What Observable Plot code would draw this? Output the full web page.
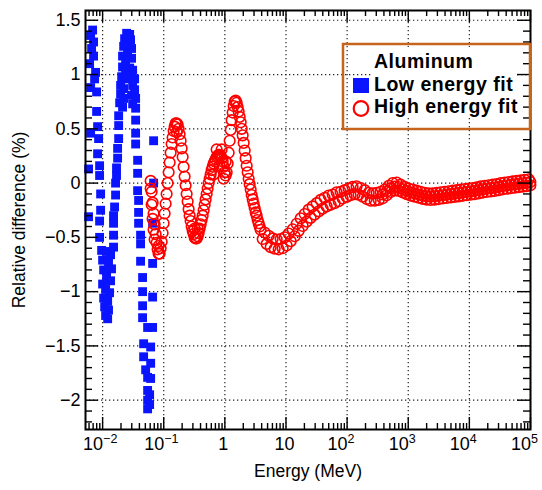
<!DOCTYPE html>
<html><head><meta charset="utf-8">
<script src="https://cdn.jsdelivr.net/npm/d3@7"></script>
<script src="https://cdn.jsdelivr.net/npm/@observablehq/plot@0.6"></script>
<style>
html,body{margin:0;padding:0;background:#fff;}
#chart{width:542px;height:490px;position:relative;}
</style></head><body><div id="chart"></div>
<script>
// ---------- Data (energy in MeV, relative difference in %) ----------
const lowEnergy = [
  0.00686,0.00637,0.00712,0.00661,0.00712,0.00613,0.00768,0.00740,0.00637,0.00798,0.00798,0.00828,0.00637,0.00860,0.00828,0.00893,0.00590,0.00893,0.00928,0.00928,0.00590,0.00893,0.00893,
  0.00964,0.0116,0.0135,0.0100,0.0125,0.0140,0.0104,0.0116,0.0135,0.0100,0.0112,0.0130,0.0104,0.0121,0.0108,0.0125,0.0112,0.0121,0.0151,0.0151,
  0.0151,0.0151,0.0157,0.0163,0.0163,0.0169,0.0169,0.0176,0.0176,0.0183,0.0183,0.0183,
  0.0247,0.0277,0.0229,0.0287,0.0256,0.0221,0.0298,0.0256,0.0212,0.0298,0.0238,0.0212,0.0277,0.0310,0.0238,
  0.0205,0.0229,0.0197,0.0221,0.0197,0.0221,0.0190,0.0212,
  0.0298,0.0334,0.0310,0.0334,0.0298,0.0347,0.0310,0.0347,
  0.0347,0.0347,0.0347,0.0374,0.0374,0.0374,0.0388,0.0388,0.0388,0.0418,0.0418,0.0418,0.0451,0.0451,0.0451,0.0451,
  0.0545,0.0469,0.0611,0.0469,0.0611,0.0506,0.0545,0.0611,0.0545,0.0588,0.0545,0.0588,0.0545,
  0.0683,0.0683,0.0658,0.0658,0.0658,0.0658
];
const lowDiff = [
  1.41,1.36,1.30,1.24,1.17,1.10,1.02,0.96,0.88,0.84,0.66,0.52,0.46,0.41,0.27,0.16,0.13,0.07,-0.10,-0.25,-0.31,-0.35,-0.50,
  -0.62,-0.63,-0.66,-0.71,-0.73,-0.79,-0.80,-0.86,-0.90,-0.93,-0.98,-1.01,-1.06,-1.09,-1.14,-1.17,-1.22,-1.25,-0.48,-0.59,
  -0.37,-0.30,-0.22,-0.11,0.00,0.07,0.14,0.23,0.32,0.41,0.53,0.62,
  1.38,1.37,1.33,1.32,1.29,1.26,1.24,1.20,1.17,1.15,1.12,1.07,1.06,1.04,1.02,
  0.98,0.96,0.90,0.87,0.82,0.78,0.74,0.70,
  0.98,0.96,0.90,0.86,0.81,0.78,0.73,0.69,
  0.58,0.46,0.36,0.21,0.09,-0.07,-0.16,-0.27,-0.37,-0.48,-0.56,-0.72,-0.87,-1.00,-1.13,-1.24,
  -1.33,-1.48,-1.51,-1.60,-1.66,-1.72,-1.79,-1.80,-1.91,-1.95,-2.00,-2.04,-2.08,
  0.39,0.00,-0.37,-0.74,-1.05,-1.33
];

// High energy fit: oscillating part
const highEnergyOsc = [
  0.0611,0.0634,0.0658,0.0683,0.0710,0.0737,0.0765,0.0794,0.0825,0.0857,
  0.0890,0.0924,0.0959,0.0996,0.1034,0.1074,0.1115,0.1158,0.1203,0.1249,
  0.1297,0.1347,0.1398,0.1452,0.1508,0.1566,0.1626,0.1688,0.1753,0.1820,
  0.1890,0.1963,0.2038,0.2116,0.2198,0.2282,0.2370,0.2461,0.2555,0.2653,
  0.2755,0.2861,0.2972,0.3086,0.3204,0.3327,0.3455,0.3588,0.3725,0.3868,
  0.4017,0.4171,0.4331,0.4497,0.4670,0.4849,0.5036,0.5229,0.5430,0.5639,
  0.5855,0.6080,0.6313,0.6555,0.6807,0.7068,0.7340,0.7622,0.7915,0.8219,
  0.8535,0.8863,0.920,0.9553,0.992,1.030,1.070,1.111,1.154,1.198,
  1.244,1.292,1.342,1.394,1.447,1.503,1.560,1.620,1.682,1.747,
  1.814,1.884,1.956,2.031,2.109,2.190,2.274,2.361,2.452,2.546,
  2.644,2.746,2.851,2.960,3.074,3.192,3.315,3.442,3.574,3.711,3.854
];
const highDiffOsc = [
  0.02,-0.08,-0.18,-0.28,-0.38,-0.47,-0.55,-0.61,-0.65,-0.65,
  -0.60,-0.54,-0.46,-0.37,-0.28,-0.19,-0.10,0.00,0.10,0.19,
  0.28,0.36,0.42,0.48,0.52,0.55,0.55,0.54,0.50,0.45,
  0.39,0.32,0.24,0.15,0.06,-0.02,-0.10,-0.17,-0.24,-0.30,
  -0.35,-0.40,-0.44,-0.47,-0.50,-0.51,-0.51,-0.49,-0.46,-0.42,
  -0.38,-0.34,-0.30,-0.25,-0.20,-0.15,-0.10,-0.05,0.00,0.04,
  0.08,0.12,0.15,0.18,0.20,0.22,0.24,0.25,0.26,0.26,
  0.25,0.23,0.20,0.15,0.10,0.07,0.10,0.18,0.28,0.39,
  0.49,0.58,0.65,0.71,0.75,0.76,0.74,0.70,0.66,0.61,
  0.56,0.50,0.44,0.37,0.30,0.23,0.16,0.10,0.04,-0.01,
  -0.06,-0.11,-0.15,-0.19,-0.23,-0.27,-0.30,-0.34,-0.37,-0.40,-0.43
];
const highEnergyScatter = [0.0611,0.0634,0.0658,0.0683,0.0710,0.0825,0.1626,0.3204,0.3588,0.6555,0.7340,0.8219,0.8863,0.9553,1.030];
const highDiffScatter   = [-0.05,-0.20,-0.33,-0.43,-0.52,-0.58,0.47,-0.42,-0.42,0.08,0.31,0.16,0.31,0.04,0.20];

// High energy fit: tail, upper edge of band
const highEnergyUpper = [
  4.48,5.21,6.06,7.04,8.19,9.52,11.07,12.87,14.96,17.39,
  20.2,23.5,27.3,31.8,36.9,42.9,49.9,58.0,67.5,78.4,
  91.2,106,123,143,167,194,225,262,305,354,
  412,479,557,647,753,875,1017,1183,1375,1599,
  1859,2161,2512,2921,3396,3948,4590,5336,6204,7213,
  8386,9750,11335,13178,15321,17812,20709,24076,27991,32542,
  37834,43986,51138,59454,69122,80362,93430
];
const highDiffUpper = [
  -0.455,-0.485,-0.51,-0.52,-0.515,-0.50,-0.465,-0.425,-0.375,-0.325,
  -0.285,-0.245,-0.215,-0.185,-0.155,-0.135,-0.115,-0.105,-0.085,-0.08,
  -0.065,-0.05,-0.035,-0.03,-0.045,-0.065,-0.09,-0.095,-0.09,-0.08,
  -0.06,-0.025,0.0,0.005,-0.015,-0.035,-0.05,-0.06,-0.07,-0.08,
  -0.09,-0.095,-0.095,-0.09,-0.085,-0.08,-0.075,-0.07,-0.065,-0.06,
  -0.055,-0.05,-0.045,-0.04,-0.03,-0.025,-0.02,-0.015,-0.01,0.0,
  0.005,0.01,0.015,0.02,0.025,0.03,0.035
];
// tail, lower edge of band
const highEnergyLower = [
  4.156,4.83,5.62,6.53,7.59,8.83,10.27,11.94,13.88,16.13,
  18.75,21.8,25.3,29.4,34.3,39.8,46.3,53.8,62.5,72.8,
  84.5,98.3,114,133,154,180,209,243,283,329,
  382,444,517,601,698,812,944,1097,1276,1483,
  1724,2005,2330,2709,3150,3662,4257,4949,5754,6690,
  7778,9043,10513,12223,14210,16521,19207,22330,25961,30183,
  35090,40796,47430,55142,64108,74532,86650,99500
];
const highDiffLower = [
  -0.515,-0.56,-0.59,-0.605,-0.61,-0.60,-0.575,-0.535,-0.49,-0.44,
  -0.395,-0.355,-0.32,-0.29,-0.26,-0.235,-0.215,-0.20,-0.185,-0.167,
  -0.142,-0.127,-0.112,-0.102,-0.107,-0.125,-0.147,-0.162,-0.162,-0.155,
  -0.14,-0.112,-0.082,-0.067,-0.072,-0.085,-0.102,-0.115,-0.125,-0.135,
  -0.145,-0.152,-0.155,-0.152,-0.147,-0.142,-0.137,-0.132,-0.127,-0.122,
  -0.117,-0.112,-0.107,-0.102,-0.095,-0.087,-0.082,-0.077,-0.072,-0.065,
  -0.057,-0.052,-0.047,-0.042,-0.037,-0.032,-0.028,-0.02
];
// tail, middle of band (high energies)
const highEnergyMid = [
  382,444,517,601,698,812,944,1097,1276,1483,
  1724,2005,2330,2709,3150,3662,4257,4949,5754,6690,
  7778,9043,10513,12223,14210,16521,19207,22330,25961,30183,
  35090,40796,47430,55142,64108,74532,86650,99500
];
const highDiffMid = [
  -0.105,-0.077,-0.047,-0.032,-0.037,-0.055,-0.072,-0.085,-0.095,-0.105,
  -0.115,-0.122,-0.125,-0.122,-0.117,-0.112,-0.107,-0.102,-0.097,-0.092,
  -0.087,-0.082,-0.077,-0.072,-0.065,-0.057,-0.052,-0.047,-0.042,-0.035,
  -0.027,-0.022,-0.017,-0.012,-0.007,-0.002,0.002,0.01
];

// ticks and labels
const xMajor = [0.01, 0.1, 1, 10, 100, 1000, 10000, 100000];
const xLabelBase = ["10", "10", "1", "10", "10", "10", "10", "10"];
const xLabelExp  = ["\u22122", "\u22121", "", "", "2", "3", "4", "5"];
const yMajor = [-2, -1.5, -1, -0.5, 0, 0.5, 1, 1.5];
const yLabels = ["\u22122", "\u22121.5", "\u22121", "\u22120.5", "0", "0.5", "1", "1.5"];
const xTitle = "Energy (MeV)";
const yTitle = "Relative difference (%)";
const legendTitle = "Aluminum";
const seriesNames = ["Low energy fit", "High energy fit"];

// ---------- Build ----------
const xDomain = [0.00525, 1e5];
const yDomain = [-2.27, 1.59];
const xMinor = [];
for (let p = -3; p <= 4; p++) for (let m = 2; m <= 9; m++) {
  const v = m * Math.pow(10, p);
  if (v > xDomain[0] && v < xDomain[1]) xMinor.push(v);
}
const yMinor = d3.range(-22, 16).map(k => k / 10).filter(v => Math.abs(Math.round(v * 10) % 5) !== 0);

const zip = (E, D) => E.map((e, i) => ({e, d: D[i]}));
const lowPts = zip(lowEnergy, lowDiff);
const highPts = [].concat(
  zip(highEnergyOsc, highDiffOsc),
  zip(highEnergyScatter, highDiffScatter),
  zip(highEnergyUpper, highDiffUpper),
  zip(highEnergyLower, highDiffLower),
  zip(highEnergyMid, highDiffMid)
);
const xLabels = xMajor.map((v, i) => ({v, base: xLabelBase[i], exp: xLabelExp[i]}));

const W = 542, H = 490, mL = 85, mR = 12, mT = 10, mB = 61;
const frameH = H - mT - mB, frameW = W - mL - mR;
const tickStyle = {stroke: "#000", strokeWidth: 1.4};
const gridStyle = {stroke: "#222", strokeWidth: 1.2, strokeDasharray: "1.3,2.7"};
const yMid = (yDomain[0] + yDomain[1]) / 2;

const chart = Plot.plot({
  width: W, height: H,
  marginLeft: mL, marginRight: mR, marginTop: mT, marginBottom: mB,
  style: {fontFamily: "'Liberation Sans', Arial, Helvetica, sans-serif", background: "#ffffff", color: "#000", overflow: "visible"},
  x: {type: "log", domain: xDomain, axis: null},
  y: {domain: yDomain},
  marks: [
    Plot.ruleX(xMajor, gridStyle),
    Plot.ruleY(yMajor, gridStyle),
    Plot.dot(lowPts, {x: "e", y: "d", symbol: "square", r: 5, fill: "#0a14ff", stroke: "none"}),
    Plot.dot(highPts, {x: "e", y: "d", r: 5.3, stroke: "#ff0000", strokeWidth: 1.6, fill: "none"}),
    Plot.ruleX(xMajor, {...tickStyle, insetTop: frameH - 12}),
    Plot.ruleX(xMajor, {...tickStyle, insetBottom: frameH - 12}),
    Plot.ruleX(xMinor, {...tickStyle, insetTop: frameH - 6}),
    Plot.ruleX(xMinor, {...tickStyle, insetBottom: frameH - 6}),
    Plot.ruleY(yMajor, {...tickStyle, insetRight: frameW - 13}),
    Plot.ruleY(yMajor, {...tickStyle, insetLeft: frameW - 13}),
    Plot.ruleY(yMinor, {...tickStyle, insetRight: frameW - 7}),
    Plot.ruleY(yMinor, {...tickStyle, insetLeft: frameW - 7}),
    Plot.frame({stroke: "#000", strokeWidth: 2}),
    Plot.axisY({ticks: yMajor, tickFormat: (d, i) => yLabels[yMajor.indexOf(d)], tickSize: 0, tickPadding: 5, fontSize: 18, label: null}),
    Plot.text(xLabels.filter(d => d.exp), {x: "v", text: "base", frameAnchor: "bottom", textAnchor: "end", dx: 0.5, dy: 20, fontSize: 18}),
    Plot.text(xLabels.filter(d => d.exp), {x: "v", text: "exp", frameAnchor: "bottom", textAnchor: "start", dx: 0.5, dy: 13, fontSize: 12.5}),
    Plot.text(xLabels.filter(d => !d.exp), {x: "v", text: "base", frameAnchor: "bottom", textAnchor: "middle", dx: -1.5, dy: 20, fontSize: 18}),
    Plot.text([xTitle], {text: d => d, frameAnchor: "bottom", textAnchor: "middle", dy: 47, fontSize: 17.5}),
    Plot.text([yTitle], {text: d => d, y: () => yMid, frameAnchor: "left", textAnchor: "middle", rotate: -90, dx: -66, fontSize: 17.5})
  ]
});
document.getElementById("chart").appendChild(chart);

// ---------- Legend ----------
const svg = d3.select(chart);
const lg = svg.append("g").attr("class", "legend").attr("text-anchor", "start");
lg.append("rect").attr("x", 372).attr("y", 47).attr("width", 144).attr("height", 69).attr("fill", "#fff");
const lf = "'Liberation Sans', Arial, sans-serif";
const addText = (y, s) => lg.append("text").attr("x", 374).attr("y", y).attr("text-anchor", "start")
  .attr("font-family", lf).attr("font-weight", "bold").attr("font-size", 19.5).attr("letter-spacing", 0.5).attr("fill", "#000").text(s);
addText(68, legendTitle);
lg.append("rect").attr("x", 353).attr("y", 78).attr("width", 16).attr("height", 15).attr("fill", "#0a14ff");
addText(90.5, seriesNames[0]);
lg.append("circle").attr("cx", 361).attr("cy", 108.5).attr("r", 7.3).attr("fill", "none").attr("stroke", "#ff0000").attr("stroke-width", 2.2);
addText(113, seriesNames[1]);
lg.append("rect").attr("x", 343).attr("y", 44).attr("width", 187).attr("height", 85).attr("fill", "none").attr("stroke", "#c5651c").attr("stroke-width", 2.5);
</script></body></html>
